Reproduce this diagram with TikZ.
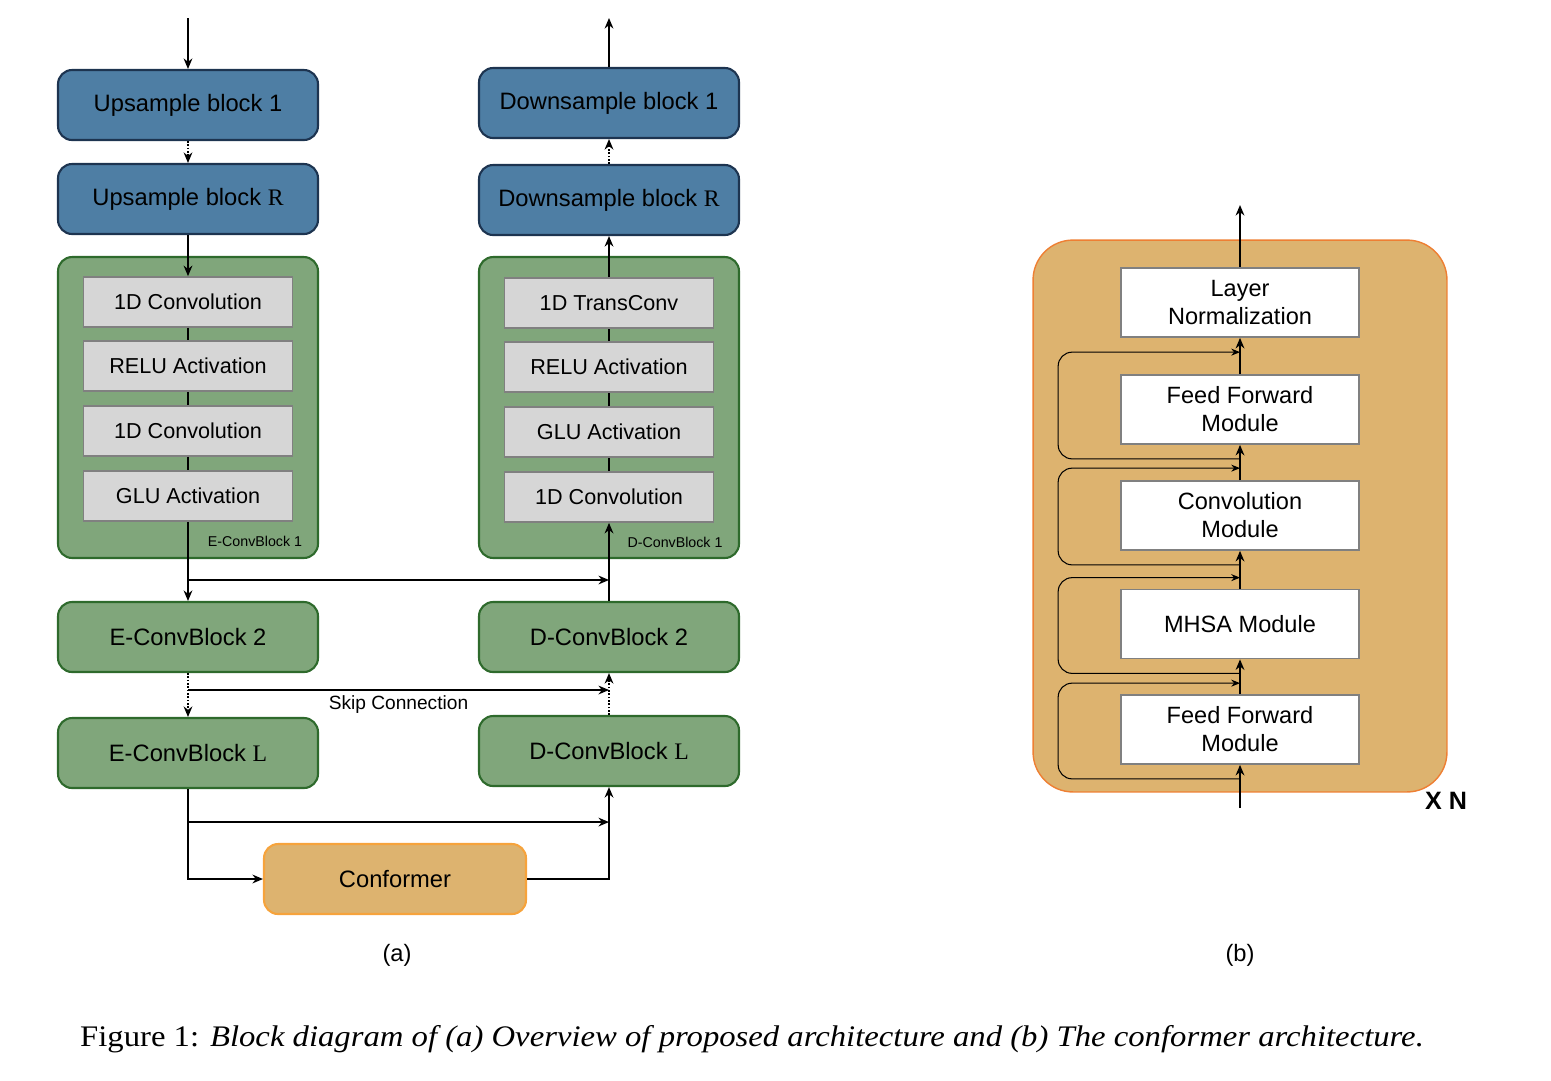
\documentclass[tikz,border=0pt]{standalone}
\usepackage{fontspec}
\setmainfont{Liberation Sans}
\newfontfamily\capfont{Liberation Serif}
\usetikzlibrary{arrows.meta,positioning,calc}

\definecolor{upblue}{HTML}{4E7EA4}
\definecolor{upline}{HTML}{1D3450}
\definecolor{cgreen}{HTML}{80A67B}
\definecolor{cline}{HTML}{2E6A2C}
\definecolor{lgray}{HTML}{D6D6D6}
\definecolor{dgray}{HTML}{808080}
\definecolor{corange}{HTML}{DDB36F}
\definecolor{oline}{HTML}{F6A33C}
\definecolor{oline2}{HTML}{EE7F33}

\begin{document}
\begin{tikzpicture}[x=0.02cm, y=-0.02cm,
    sblk/.style={draw=upline, line width=1.2pt, fill=upblue, rounded corners=8pt, minimum width=5.2cm, minimum height=1.4cm, font=\fontsize{13.5}{16}\selectfont},
    cblk/.style={sblk, draw=cline, fill=cgreen},
    layer/.style={draw=dgray, line width=1pt, fill=lgray, minimum width=4.18cm, minimum height=1cm, font=\fontsize{12.3}{14}\selectfont},
    mod/.style={draw=dgray, line width=1pt, fill=white, minimum width=4.76cm, minimum height=1.38cm, align=center, font=\fontsize{13.4}{16}\selectfont},
    lbl/.style={font=\fontsize{8.1}{10}\selectfont, inner sep=0pt},
    arr/.style={-{Stealth[length=6pt, width=5pt]}, line width=0.9pt},
    dotarr/.style={arr, densely dotted},
    res/.style={-{Stealth[length=5pt, width=4pt]}, line width=0.6pt, rounded corners=8pt}
]
\useasboundingbox (0,0) rectangle (1551,1080);

% (a) encoder side
\node[sblk] (up1) at (188,105) {Upsample block 1};
\node[sblk] (upR) at (188,199) {Upsample block {\capfont R}};
\node[cblk, minimum height=6.02cm] (enc1) at (188,407.5) {};
\node[layer] (e11) at (188,302) {1D Convolution};
\node[layer] (e12) at (188,366) {RELU Activation};
\node[layer] (e13) at (188,431) {1D Convolution};
\node[layer] (e14) at (188,496) {GLU Activation};
\node[lbl] (enc1lbl) at (255,541) {E-ConvBlock 1};
\node[cblk] (enc2) at (188,637) {E-ConvBlock 2};
\node[cblk] (encL) at (188,753) {E-ConvBlock {\capfont L}};

% (a) decoder side
\node[sblk] (dn1) at (609,103) {Downsample block 1};
\node[sblk] (dnR) at (609,200) {Downsample block {\capfont R}};
\node[cblk, minimum height=6.02cm] (dec1) at (609,407.5) {};
\node[layer] (d11) at (609,303) {1D TransConv};
\node[layer] (d12) at (609,367) {RELU Activation};
\node[layer] (d13) at (609,432) {GLU Activation};
\node[layer] (d14) at (609,497) {1D Convolution};
\node[lbl] (dec1lbl) at (675,542) {D-ConvBlock 1};
\node[cblk] (dec2) at (609,637) {D-ConvBlock 2};
\node[cblk] (decL) at (609,751) {D-ConvBlock {\capfont L}};

\node[sblk, draw=oline, fill=corange, minimum width=5.24cm] (conf) at (395,879) {Conformer};

\coordinate (ain) at (188,18);
\coordinate (aout) at (609,18);
\draw[arr] (ain) -- (up1);
\draw[dotarr] (up1) -- (upR);
\draw[arr] (upR) -- (e11);
\draw[line width=0.9pt] (e11) -- (e12) (e12) -- (e13) (e13) -- (e14);
\draw[arr] (e14) -- (enc2);
\draw[dotarr] (enc2) -- (encL);

\draw[arr] (dec2) -- (d14);
\draw[line width=0.9pt] (d14) -- (d13) (d13) -- (d12) (d12) -- (d11);
\draw[arr] (d11) -- (dnR);
\draw[dotarr] (dnR) -- (dn1);
\draw[arr] (dn1) -- (aout);
\draw[dotarr] (decL) -- (dec2);

% skip connections
\coordinate (s1) at ($(enc1.south)!0.5!(enc2.north)$);
\coordinate (s2) at (188,690);
\coordinate (s3) at ($(encL.south)+(0,33)$);
\draw[arr] (s1) -- (s1 -| dec2.north);
\draw[arr] (s2) -- (s2 -| dec2.south) node[midway, below=2pt, inner sep=1pt, font=\fontsize{10.9}{12}\selectfont] (skiplbl) {Skip Connection};
\draw[arr] (s3) -- (s3 -| decL.south);
\draw[arr] (encL.south) |- (conf.west);
\draw[arr] (conf.east) -| (decL.south);

\node[font=\fontsize{13.5}{16}\selectfont] (capa) at (397,955) {(a)};

% (b) conformer block
\node[draw=oline2, line width=0.8pt, fill=corange, rounded corners=0.8cm, minimum width=8.28cm, minimum height=11.04cm] (cfm) at (1240,516) {};
\node[mod] (ln) at (1240,302.5) {Layer\\Normalization};
\node[mod] (ffb) at (1240,409.5) {Feed Forward\\Module};
\node[mod] (cvm) at (1240,515.5) {Convolution\\Module};
\node[mod] (mhsa) at (1240,624) {MHSA Module};
\node[mod] (ffa) at (1240,729.5) {Feed Forward\\Module};
\node[font=\bfseries\fontsize{14.3}{16}\selectfont] (xn) at (1446,801) {X N};

\coordinate (bin) at (1240,808);
\coordinate (bout) at (1240,205);
\draw[arr] (bin) -- (ffa);
\draw[arr] (ffa) -- (mhsa);
\draw[arr] (mhsa) -- (cvm);
\draw[arr] (cvm) -- (ffb);
\draw[arr] (ffb) -- (ln);
\draw[arr] (ln) -- (bout);

\draw[res] ($(ffa.south)+(0,14)$) -| ($(ffa.west)+(-62,0)$) |- ($(ffa.north)+(0,-11)$);
\draw[res] ($(mhsa.south)+(0,14)$) -| ($(mhsa.west)+(-62,0)$) |- ($(mhsa.north)+(0,-11)$);
\draw[res] ($(cvm.south)+(0,14)$) -| ($(cvm.west)+(-62,0)$) |- ($(cvm.north)+(0,-12)$);
\draw[res] ($(ffb.south)+(0,14)$) -| ($(ffb.west)+(-62,0)$) |- ($(ffb.north)+(0,-22)$);

\node[font=\fontsize{13.5}{16}\selectfont] (capb) at (1240,955) {(b)};

\node[font=\capfont\fontsize{17}{20}\selectfont] (caption) at (752,1039) {\scalebox{1.095}[1]{Figure 1: \textit{Block diagram of (a) Overview of proposed architecture and (b) The conformer architecture.}}};
\end{tikzpicture}
\end{document}
